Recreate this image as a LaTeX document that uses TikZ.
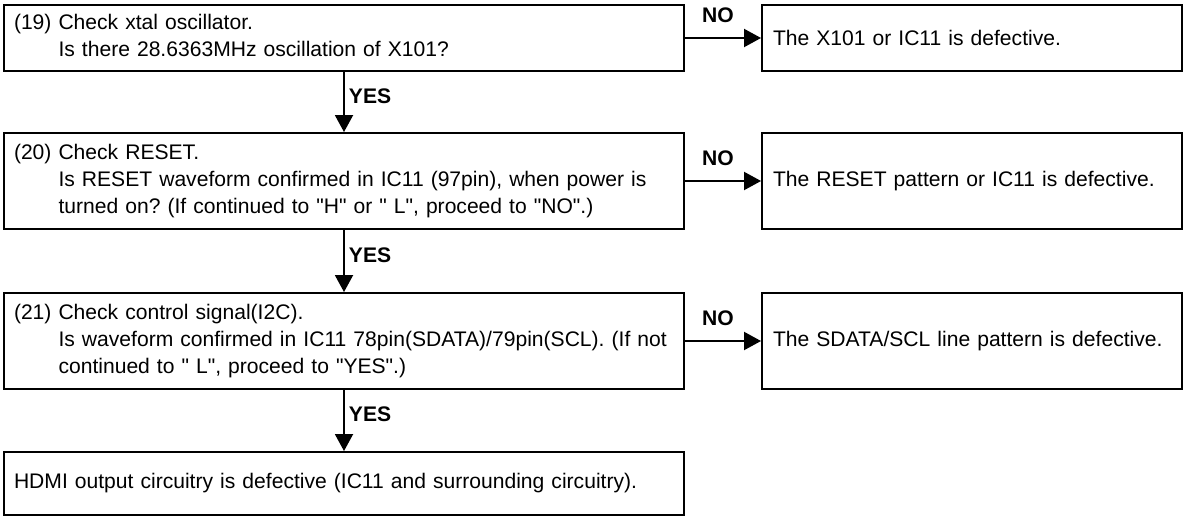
\documentclass[tikz,border=0pt]{standalone}
\usepackage{fontspec}
\setmainfont{Liberation Sans}[Ligatures=TeXOff]
\usetikzlibrary{arrows.meta,positioning,calc}

\begin{document}
\frenchspacing
\begin{tikzpicture}[
  qbox/.style={draw,line width=1.1pt,inner xsep=0.2cm,inner ysep=0pt,text width=13.2cm,align=left,font=\fontsize{12}{15.4}\selectfont},
  abox/.style={draw,line width=1.1pt,inner xsep=0.22cm,inner ysep=0pt,text width=7.96cm,align=left,font=\fontsize{12}{15.4}\selectfont},
  ar/.style={line width=1.1pt,-{Triangle[length=0.34cm,width=0.36cm]}},
  lab/.style={font=\fontsize{12}{15.4}\selectfont\bfseries,inner sep=0pt}
]
\useasboundingbox (0,0) rectangle (23.74,-10.34);
% checks on the left
\node[qbox,minimum height=1.32cm] (q19) at (6.88,-0.76) {\begin{tabular}{@{}l@{ }l@{}}
  (19) & Check xtal oscillator.\\
       & Is there 28.6363MHz oscillation of X101?
  \end{tabular}};
\node[qbox,minimum height=1.92cm] (q20) at (6.88,-3.62) {\begin{tabular}{@{}l@{ }l@{}}
  (20) & Check RESET.\\
       & Is RESET waveform confirmed in IC11 (97pin), when power is\\
       & turned on? (If continued to "H" or " L", proceed to "NO".)
  \end{tabular}};
\node[qbox,minimum height=1.92cm] (q21) at (6.88,-6.82) {\begin{tabular}{@{}l@{ }l@{}}
  (21) & Check control signal(I2C).\\
       & Is waveform confirmed in IC11 78pin(SDATA)/79pin(SCL). (If not\\
       & continued to " L", proceed to "YES".)
  \end{tabular}};
\node[qbox,minimum height=1.26cm] (q22) at (6.88,-9.67) {HDMI output circuitry is defective (IC11 and surrounding circuitry).};
% results on the right
\node[abox,minimum height=1.32cm] (r19) at (19.44,-0.76) {The X101 or IC11 is defective.};
\node[abox,minimum height=1.92cm] (r20) at (19.44,-3.62) {The RESET pattern or IC11 is defective.};
\node[abox,minimum height=1.92cm] (r21) at (19.44,-6.82) {The SDATA/SCL line pattern is defective.};
% NO branches
\draw[ar] (q19) -- node[lab,xshift=-0.1cm,yshift=0.45cm] (no19) {NO} (r19);
\draw[ar] (q20) -- node[lab,xshift=-0.1cm,yshift=0.45cm] (no20) {NO} (r20);
\draw[ar] (q21) -- node[lab,xshift=-0.1cm,yshift=0.45cm] (no21) {NO} (r21);
% YES branches
\draw[ar] (q19) -- node[lab,anchor=west,xshift=0.08cm,yshift=0.12cm] (yes19) {YES} (q20);
\draw[ar] (q20) -- node[lab,anchor=west,xshift=0.08cm,yshift=0.12cm] (yes20) {YES} (q21);
\draw[ar] (q21) -- node[lab,anchor=west,xshift=0.08cm,yshift=0.12cm] (yes21) {YES} (q22);
\end{tikzpicture}
\end{document}
